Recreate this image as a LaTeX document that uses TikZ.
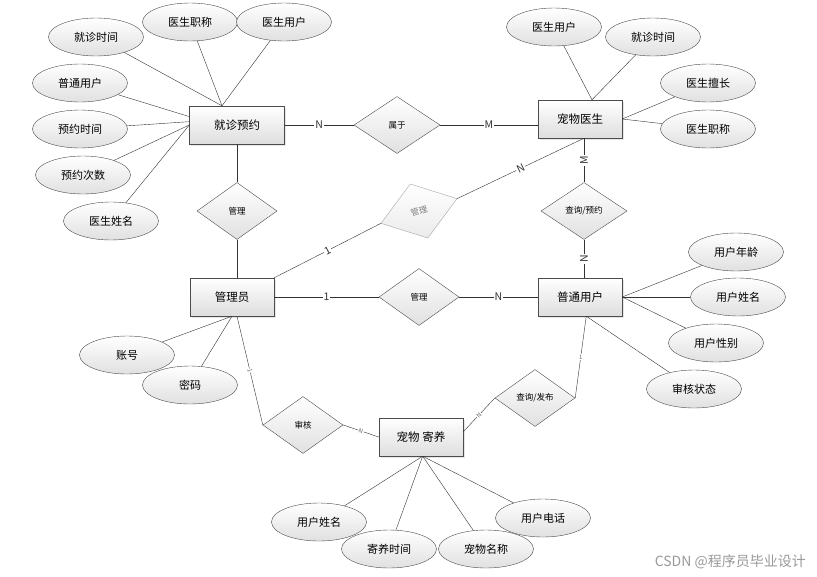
\documentclass[tikz,border=0pt]{standalone}
\usepackage{fontspec}
\setmainfont{Noto Sans CJK SC}
\usetikzlibrary{shapes.geometric,shadows}

\begin{document}
\begin{tikzpicture}[x=1pt,y=-1pt]
    \tikzstyle{every node}+=[inner sep=0pt]
    \tikzstyle{entity}=[draw=black!70, rectangle, minimum width=84pt, minimum height=38pt, top color=white, bottom color=black!13, drop shadow={opacity=0.2, shadow xshift=1.5pt, shadow yshift=-1.5pt}, font=\fontsize{11.5}{13}\selectfont]
    \tikzstyle{attrib}=[draw=black!70, ellipse, minimum width=95pt, minimum height=38pt, top color=white, bottom color=black!12, font=\fontsize{11}{13}\selectfont]
    \tikzstyle{rel}=[draw=black!70, diamond, minimum width=80pt, minimum height=57pt, top color=white, bottom color=black!12, font=\fontsize{8.5}{10}\selectfont]
    \tikzstyle{card}=[fill=white, inner sep=1pt, font=\fontsize{10.5}{11}\selectfont]
    \tikzstyle{tinycard}=[fill=white, inner sep=0.5pt, text=black!60, font=\fontsize{6}{6}\selectfont]
    \useasboundingbox (0,0) rectangle (817,576);
    \node [entity, minimum width=95pt] (jzyy) at (237,125) {就诊预约};
    \node [entity] (cwys) at (580,119) {宠物医生};
    \node [entity] (gly) at (232,297) {管理员};
    \node [entity] (ptyh) at (580,297) {普通用户};
    \node [entity] (cwjy) at (421,437) {宠物 寄养};
    \node [rel, minimum width=86pt] (sy) at (397,125) {属于};
    \node [rel] (gl1) at (237,211) {管理};
    \node [rel, rotate=18, draw=black!35, text=black!50, bottom color=black!8] (gl2) at (419,211) {管理};
    \node [rel, minimum width=86pt] (cxyy) at (584,211) {查询/预约};
    \node [rel] (gl3) at (419,297) {管理};
    \node [rel] (sh) at (303,425) {审核};
    \node [rel] (cxfb) at (535,398) {查询/发布};
    \node [attrib] (jzsj1) at (96,37) {就诊时间};
    \node [attrib] (yszc1) at (190,22) {医生职称};
    \node [attrib] (ysyh1) at (284,22) {医生用户};
    \node [attrib] (ptyh1) at (80,83) {普通用户};
    \node [attrib] (yysj) at (80,129) {预约时间};
    \node [attrib] (yycs) at (83,175) {预约次数};
    \node [attrib] (ysxm) at (111,221) {医生姓名};
    \node [attrib] (ysyh2) at (554,27) {医生用户};
    \node [attrib] (jzsj2) at (653,37) {就诊时间};
    \node [attrib] (yssc) at (708,83) {医生擅长};
    \node [attrib] (yszc2) at (708,129) {医生职称};
    \node [attrib] (yhnl) at (736,252) {用户年龄};
    \node [attrib] (yhxm1) at (738,297) {用户姓名};
    \node [attrib] (yhxb) at (716,343) {用户性别};
    \node [attrib] (shzt) at (694,389) {审核状态};
    \node [attrib] (zh) at (127,355) {账号};
    \node [attrib] (mm) at (190,385) {密码};
    \node [attrib] (yhxm2) at (319,522) {用户姓名};
    \node [attrib] (jysj) at (389,549) {寄养时间};
    \node [attrib] (cwmc) at (486,549) {宠物名称};
    \node [attrib] (yhdh) at (543,518) {用户电话};
    \node [text=black!40, font=\fontsize{14}{16}\selectfont, anchor=east] (wm) at (806,562) {CSDN @程序员毕业设计};
    \draw [black!80] (jzsj1) -- (jzyy.128);
    \draw [black!80] (yszc1) -- (jzyy.128);
    \draw [black!80] (ysyh1) -- (jzyy.128);
    \draw [black!80] (ptyh1) -- (jzyy.170);
    \draw [black!80] (yysj) -- (jzyy.176);
    \draw [black!80] (yycs) -- (jzyy.180);
    \draw [black!80] (ysxm) -- (jzyy.180);
    \draw [black!80] (ysyh2) -- (cwys.58);
    \draw [black!80] (jzsj2) -- (cwys.58);
    \draw [black!80] (yssc) -- (cwys.east);
    \draw [black!80] (yszc2) -- (cwys.east);
    \draw [black!80] (yhnl) -- (ptyh.east);
    \draw [black!80] (yhxm1) -- (ptyh.east);
    \draw [black!80] (yhxb) -- (ptyh.east);
    \draw [black!80] (shzt) -- (ptyh.-72);
    \draw [black!80] (zh) -- (gly.south);
    \draw [black!80] (mm) -- (gly.south);
    \draw [black!80] (yhxm2) -- (cwjy.-85);
    \draw [black!80] (jysj) -- (cwjy.-85);
    \draw [black!80] (cwmc) -- (cwjy.-85);
    \draw [black!80] (yhdh) -- (cwjy.-85);
    \draw [black!80] (jzyy.east) -- node [card] {N} (sy.west);
    \draw [black!80] (sy.east) -- node [card] {M} (sy.east -| cwys.west);
    \draw [black!80] (cwys.south -| cxyy) -- node [card, rotate=90] {M} (cxyy.north);
    \draw [black!80] (cxyy.south) -- node [card, rotate=90] {N} (cxyy.south |- ptyh.north);
    \draw [black!80] (cwys.south -| cxyy) -- node [card, sloped] {N} (gl2.east);
    \draw [black!80] (gl2.west) -- node [card, sloped] {1} (gly.north east);
    \draw [black!80] (gly.east) -- node [card] {1} (gl3.west);
    \draw [black!80] (gl3.east) -- node [card] {N} (ptyh.west);
    \draw [black!80] (jzyy.south -| gl1) -- (gl1.north);
    \draw [black!80] (gl1.south) -- (gl1.south |- gly.north);
    \draw [black!80] (gl1.south |- gly.south) -- node [tinycard, sloped] {1} (sh.west);
    \draw [black!80] (sh.east) -- node [tinycard, sloped] {N} (cwjy.west);
    \draw [black!80] (cwjy.7) -- node [tinycard, sloped] {N} (cxfb.west);
    \draw [black!80] (cxfb.east) -- node [tinycard] {1} (ptyh.-72);
\end{tikzpicture}
\end{document}
